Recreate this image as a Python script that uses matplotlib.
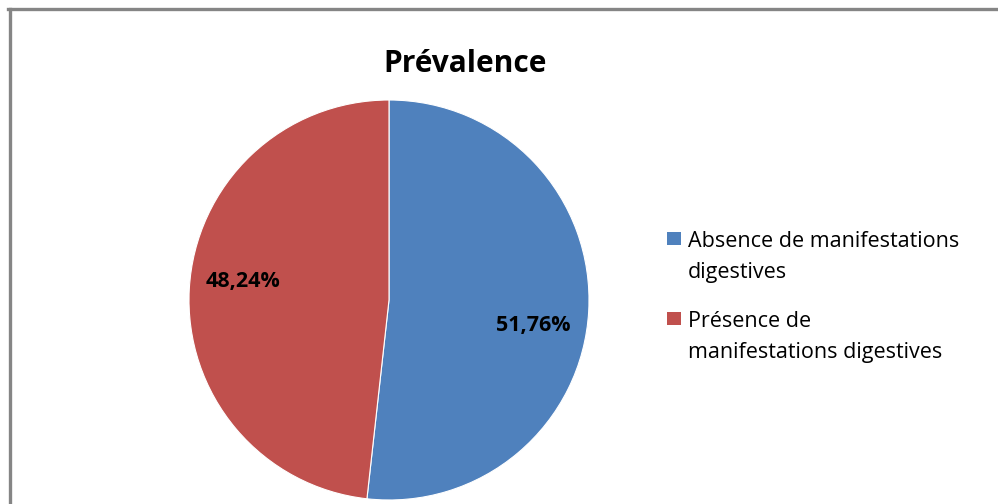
import matplotlib
matplotlib.use('Agg')
import matplotlib.pyplot as plt
from matplotlib.patches import Rectangle
from matplotlib.lines import Line2D

plt.rcParams['font.family'] = ['Open Sans', 'DejaVu Sans']

# data
categories = ["Absence de manifestations\ndigestives",
              "Présence de\nmanifestations digestives"]
values = [51.76, 48.24]
pct_labels = ["51,76%", "48,24%"]
colors = ["#4F81BD", "#C0504D"]
title = "Prévalence"

W, H = 998, 504
fig = plt.figure(figsize=(W / 100, H / 100), dpi=100)

# pie axes: centre ~ (389, 300) px, radius ~ 200 px
ax = fig.add_axes([188 / W, (H - 501) / H, 402 / W, 402 / H])
wedges, _ = ax.pie(values, colors=colors, startangle=90, counterclock=False,
                   radius=1.0, wedgeprops=dict(edgecolor="white", linewidth=0.8))
ax.set_xlim(-1.005, 1.005)
ax.set_ylim(-1.005, 1.005)
ax.set_aspect("equal")
ax.axis("off")

# value labels (Excel-like placement)
label_pos = [(0.72, -0.13), (-0.73, 0.095)]
for txt, (x, y) in zip(pct_labels, label_pos):
    ax.text(x, y, txt, ha="center", va="center", fontsize=15.5,
            fontweight="bold", color="black")

# title
fig.text(465 / W, 1 - 72 / H, title, ha="center", va="baseline",
         fontsize=21.5, fontweight="bold")

# legend drawn by hand so the marker sits on the first line
leg_top = [232, 312]
line_gap = 31
for lab, col, top in zip(categories, colors, leg_top):
    fig.add_artist(Rectangle((667 / W, 1 - (top + 13) / H), 14 / W, 13 / H,
                             transform=fig.transFigure, facecolor=col,
                             edgecolor="none"))
    for i, line in enumerate(lab.split("\n")):
        fig.text(688 / W, 1 - (top + 15 + i * line_gap) / H, line,
                 ha="left", va="baseline", fontsize=15.5)

# grey frame (left and top edges visible)
fig.add_artist(Line2D([10 / W, 10 / W], [0, 1 - 8.5 / H],
                      transform=fig.transFigure, color="#858585", lw=2.4))
fig.add_artist(Line2D([8.3 / W, 1], [1 - 8.5 / H, 1 - 8.5 / H],
                      transform=fig.transFigure, color="#858585", lw=2.4))

fig.savefig("out.png", dpi=100)
